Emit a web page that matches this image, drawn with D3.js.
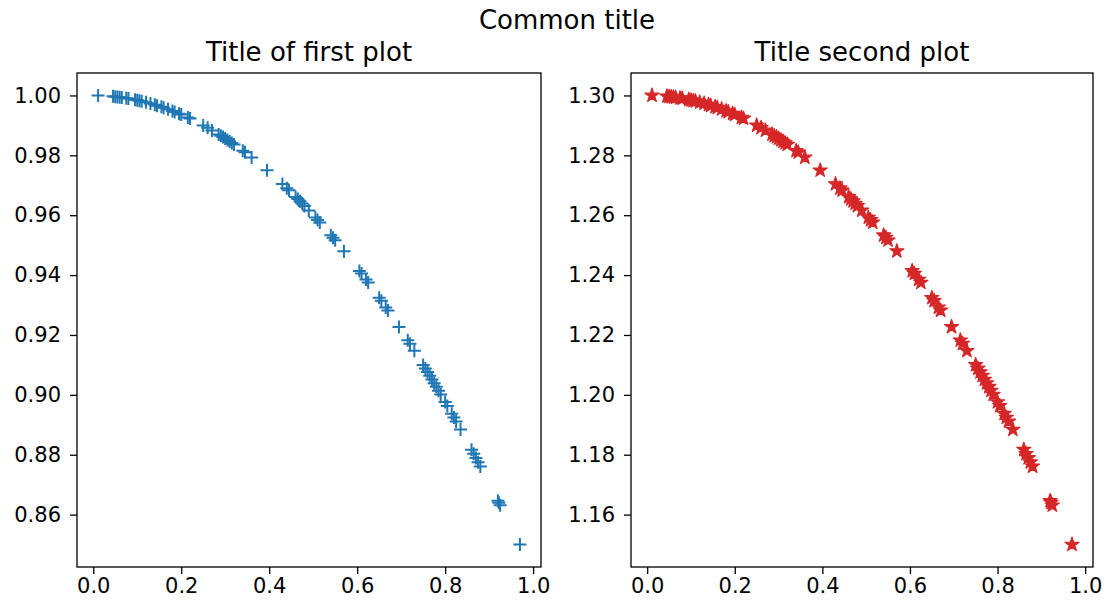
<!DOCTYPE html>
<html>
<head>
<meta charset="utf-8">
<script src="https://cdn.jsdelivr.net/npm/d3@7"></script>
<style>
  html, body { margin: 0; padding: 0; background: #fff; }
  text { font-family: "DejaVu Sans", sans-serif; fill: #000; }
</style>
</head>
<body>
<svg id="chart" width="1107" height="611"></svg>
<script>
// Sample positions shared by both panels
const xValues = [
  0.011, 0.045, 0.05, 0.055, 0.06, 0.065, 0.075, 0.08, 0.095, 0.1, 0.105, 0.11, 0.12,
  0.13, 0.14, 0.145, 0.155, 0.16, 0.17, 0.18, 0.185, 0.195, 0.2,
  0.215, 0.22, 0.25, 0.26, 0.27, 0.285, 0.29, 0.295, 0.30, 0.305, 0.31, 0.315, 0.32, 0.34, 0.345,
  0.36, 0.395, 0.43, 0.44, 0.445, 0.46, 0.465, 0.47, 0.475, 0.48, 0.49, 0.505, 0.51, 0.515,
  0.54, 0.545, 0.55, 0.57,
  0.605, 0.61, 0.62, 0.625, 0.65, 0.655, 0.665, 0.67, 0.695,
  0.715, 0.72, 0.73, 0.75, 0.755, 0.76, 0.765, 0.77, 0.775, 0.78, 0.785, 0.79, 0.80, 0.805,
  0.815, 0.82, 0.825, 0.835, 0.86, 0.865, 0.87, 0.875, 0.88, 0.92, 0.922, 0.925, 0.97
];

// First panel values
const yFirst = [
  1.0000, 0.9997, 0.9996, 0.9995, 0.9994, 0.9993, 0.9991, 0.9990, 0.9986, 0.9984, 0.9982, 0.9981, 0.9977,
  0.9973, 0.9969, 0.9966, 0.9962, 0.9959, 0.9954, 0.9948, 0.9945, 0.9939, 0.9936,
  0.9926, 0.9923, 0.9900, 0.9892, 0.9883, 0.9870, 0.9865, 0.9861, 0.9856, 0.9851, 0.9846, 0.9841, 0.9836, 0.9815, 0.9810,
  0.9793, 0.9750, 0.9704, 0.9690, 0.9683, 0.9661, 0.9654, 0.9647, 0.9639, 0.9631, 0.9616, 0.9592, 0.9584, 0.9576,
  0.9533, 0.9525, 0.9516, 0.9480,
  0.9414, 0.9405, 0.9385, 0.9375, 0.9324, 0.9314, 0.9292, 0.9282, 0.9227,
  0.9182, 0.9171, 0.9147, 0.9100, 0.9088, 0.9076, 0.9064, 0.9051, 0.9039, 0.9027, 0.9014, 0.9001, 0.8976, 0.8963,
  0.8937, 0.8924, 0.8911, 0.8884, 0.8817, 0.8803, 0.8789, 0.8775, 0.8761, 0.8646, 0.8640, 0.8631, 0.8500
];

// Second panel values
const ySecond = [
  1.3000, 1.2997, 1.2996, 1.2995, 1.2994, 1.2993, 1.2991, 1.2990, 1.2986, 1.2984, 1.2982, 1.2981, 1.2977,
  1.2973, 1.2969, 1.2966, 1.2962, 1.2959, 1.2954, 1.2948, 1.2945, 1.2939, 1.2936,
  1.2926, 1.2923, 1.2900, 1.2892, 1.2883, 1.2870, 1.2865, 1.2861, 1.2856, 1.2851, 1.2846, 1.2841, 1.2836, 1.2815, 1.2810,
  1.2793, 1.2750, 1.2704, 1.2690, 1.2683, 1.2661, 1.2654, 1.2647, 1.2639, 1.2631, 1.2616, 1.2592, 1.2584, 1.2576,
  1.2533, 1.2525, 1.2516, 1.2480,
  1.2414, 1.2405, 1.2385, 1.2375, 1.2324, 1.2314, 1.2292, 1.2282, 1.2227,
  1.2182, 1.2171, 1.2147, 1.2100, 1.2088, 1.2076, 1.2064, 1.2051, 1.2039, 1.2027, 1.2014, 1.2001, 1.1976, 1.1963,
  1.1937, 1.1924, 1.1911, 1.1884, 1.1817, 1.1803, 1.1789, 1.1775, 1.1761, 1.1646, 1.1640, 1.1631, 1.1500
];

const xTicks = [0.0, 0.2, 0.4, 0.6, 0.8, 1.0];
const yTicksFirst = [0.86, 0.88, 0.90, 0.92, 0.94, 0.96, 0.98, 1.00];
const yTicksSecond = [1.16, 1.18, 1.20, 1.22, 1.24, 1.26, 1.28, 1.30];

const superTitle = "Common title";
const panelTitles = ["Title of first plot", "Title second plot"];

const svg = d3.select("#chart");

svg.append("text")
  .attr("x", 567).attr("y", 29)
  .attr("text-anchor", "middle")
  .style("font-size", "26px")
  .text(superTitle);

function pad(ext, frac) {
  const r = ext[1] - ext[0];
  return [ext[0] - r * frac, ext[1] + r * frac];
}

function panel(opts) {
  const { left, right, top, bottom, ys, yTicks, title, marker, color } = opts;
  const x = d3.scaleLinear().domain(pad(d3.extent(xValues), 0.05)).range([left, right]);
  const y = d3.scaleLinear().domain(pad(d3.extent(ys), 0.05)).range([bottom, top]);

  const g = svg.append("g");

  // markers
  const pts = g.append("g");
  xValues.forEach((xv, i) => {
    const px = x(xv), py = y(ys[i]);
    if (marker === "plus") {
      pts.append("path")
        .attr("d", "M-6.5,0H6.5M0,-6.5V6.5")
        .attr("transform", `translate(${px},${py})`)
        .attr("stroke", color).attr("stroke-width", 2).attr("fill", "none");
    } else {
      pts.append("path")
        .attr("d", d3.symbol(d3.symbolStar, 62)())
        .attr("transform", `translate(${px},${py})`)
        .attr("fill", color).attr("stroke", color).attr("stroke-width", 1.2)
        .attr("stroke-linejoin", "round");
    }
  });

  // axes
  const xAxis = d3.axisBottom(x).tickValues(xTicks).tickFormat(d3.format(".1f"))
    .tickSizeInner(7).tickSizeOuter(0).tickPadding(4);
  const yAxis = d3.axisLeft(y).tickValues(yTicks).tickFormat(d3.format(".2f"))
    .tickSizeInner(7).tickSizeOuter(0).tickPadding(9);

  const gx = g.append("g").attr("transform", `translate(0,${bottom})`).call(xAxis);
  const gy = g.append("g").attr("transform", `translate(${left},0)`).call(yAxis);
  [gx, gy].forEach(a => {
    a.select(".domain").remove();
    a.selectAll(".tick line").attr("stroke", "#000").attr("stroke-width", 1.3);
    a.selectAll(".tick text").style("font-size", "21px")
      .style("font-family", "'DejaVu Sans', sans-serif").attr("fill", "#000");
  });

  // frame
  g.append("rect")
    .attr("x", left).attr("y", top)
    .attr("width", right - left).attr("height", bottom - top)
    .attr("fill", "none").attr("stroke", "#000").attr("stroke-width", 1.3);

  g.append("text")
    .attr("x", (left + right) / 2).attr("y", top - 12)
    .attr("text-anchor", "middle")
    .style("font-size", "26px")
    .text(title);
}

panel({ left: 77, right: 541, top: 73, bottom: 567, ys: yFirst, yTicks: yTicksFirst,
        title: panelTitles[0], marker: "plus", color: "#1f77b4" });
panel({ left: 631, right: 1093, top: 73, bottom: 567, ys: ySecond, yTicks: yTicksSecond,
        title: panelTitles[1], marker: "star", color: "#d62728" });
</script>
</body>
</html>
